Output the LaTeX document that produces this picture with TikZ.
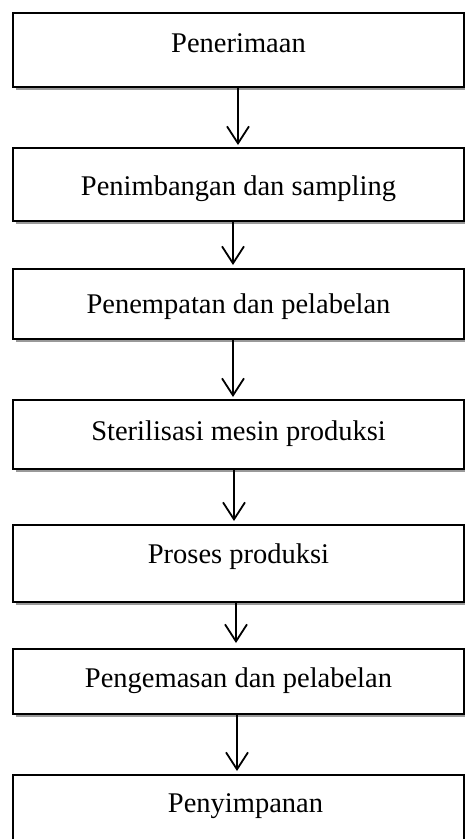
\documentclass[tikz,border=0pt]{standalone}
\usepackage{fontspec}
\setmainfont{Liberation Serif}
\usetikzlibrary{arrows.meta,shadows}
\begin{document}
\begin{tikzpicture}[x=1pt,y=1pt,
  box/.style={draw=black, line width=2pt, fill=white, minimum width=451pt,
    inner ysep=0pt, inner xsep=0pt, outer sep=0pt, anchor=north,
    font=\fontsize{28.5}{34}\selectfont,
    drop shadow={shadow xshift=2.5pt, shadow yshift=-3pt, fill=black!40, opacity=1}},
  arr/.style={line width=1.8pt, -{Straight Barb[length=17pt, width=22pt, line width=1.8pt]}}]
\useasboundingbox (0,0) rectangle (465,-839);
\clip (0,0) rectangle (465,-839);
\fill[white] (0,0) rectangle (465,-839);
\node[box, text height=39pt, text depth=35pt] (b1) at (238.5,-13) {Penerimaan};
\node[box, text height=47pt, text depth=26pt] (b2) at (238.5,-148) {Penimbangan dan sampling};
\node[box, text height=44pt, text depth=26pt] (b3) at (238.5,-269) {Penempatan dan pelabelan};
\node[box, text height=40pt, text depth=29pt] (b4) at (238.5,-400) {Sterilisasi mesin produksi};
\node[box, text height=38pt, text depth=39pt] (b5) at (238.5,-525) {Proses produksi};
\node[box, text height=38pt, text depth=27pt] (b6) at (238.5,-649) {Pengemasan dan pelabelan};
\node[box, text height=37pt, text depth=90pt] (b7) at (238.5,-775) {\hspace*{14pt}Penyimpanan};
\draw[arr] ([xshift=-0.5pt]b1.south) -- ([xshift=-0.5pt,yshift=3pt]b2.north);
\draw[arr] ([xshift=-5.5pt]b2.south) -- ([xshift=-5.5pt,yshift=4pt]b3.north);
\draw[arr] ([xshift=-5.5pt]b3.south) -- ([xshift=-5.5pt,yshift=3pt]b4.north);
\draw[arr] ([xshift=-4.5pt]b4.south) -- ([xshift=-4.5pt,yshift=4pt]b5.north);
\draw[arr] ([xshift=-2.5pt]b5.south) -- ([xshift=-2.5pt,yshift=6pt]b6.north);
\draw[arr] ([xshift=-1.5pt]b6.south) -- ([xshift=-1.5pt,yshift=4pt]b7.north);
\end{tikzpicture}
\end{document}
